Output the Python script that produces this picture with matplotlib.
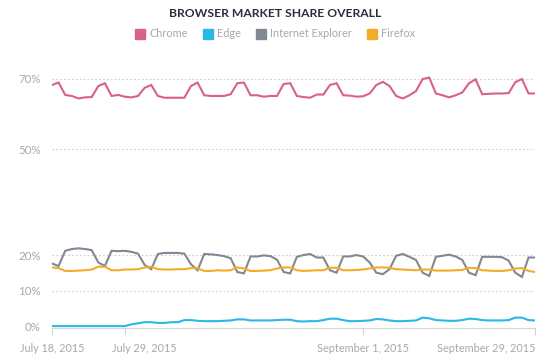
import matplotlib
matplotlib.use("Agg")
import matplotlib.pyplot as plt
import matplotlib.transforms as mtransforms
from matplotlib.lines import Line2D

plt.rcParams["font.family"] = ["Lato", "DejaVu Sans"]

# daily values, July 18 2015 .. September 29 2015 (74 days)
chrome = [68.2, 68.9, 65.4, 65.1, 64.4, 64.7, 64.8, 67.9, 68.7, 65.1,
          65.4, 64.9, 64.7, 65.1, 67.4, 68.2, 65.1, 64.6, 64.6, 64.6,
          64.6, 67.9, 68.9, 65.3, 65.1, 65.1, 65.1, 65.6, 68.7, 68.9,
          65.3, 65.3, 64.9, 65.1, 65.1, 68.5, 68.7, 65.1, 64.8, 64.6,
          65.5, 65.5, 68.2, 68.7, 65.3, 65.2, 64.9, 65.0, 65.8, 68.2,
          69.1, 67.9, 65.1, 64.4, 65.3, 66.5, 69.9, 70.3, 65.8, 65.3,
          64.7, 65.3, 66.1, 68.7, 69.8, 65.6, 65.7, 65.8, 65.8, 65.9,
          69.0, 69.9, 65.8, 65.8]
edge = [0, 0, 0, 0, 0, 0, 0, 0, 0, 0,
        0, 0, 0.5, 0.8, 1.1, 1.1, 0.9, 0.9, 1.1, 1.1,
        1.7, 1.7, 1.5, 1.4, 1.4, 1.4, 1.5, 1.6, 1.9, 1.9,
        1.6, 1.6, 1.6, 1.6, 1.7, 1.8, 1.8, 1.4, 1.3, 1.4,
        1.4, 1.7, 2.1, 2.1, 1.7, 1.4, 1.4, 1.5, 1.6, 2.0,
        1.9, 1.6, 1.4, 1.4, 1.5, 1.6, 2.4, 2.2, 1.7, 1.6,
        1.5, 1.5, 1.7, 2.1, 2.0, 1.7, 1.6, 1.6, 1.6, 1.7,
        2.4, 2.4, 1.7, 1.6]
ie = [17.7, 17.0, 21.3, 21.8, 22.0, 21.8, 21.5, 18.0, 17.0, 21.3,
      21.2, 21.3, 21.0, 20.5, 17.3, 16.1, 20.4, 20.7, 20.7, 20.7,
      20.5, 17.5, 15.8, 20.4, 20.3, 20.1, 19.8, 19.2, 15.3, 14.9,
      19.7, 19.7, 20.0, 19.8, 18.8, 15.3, 14.9, 19.6, 20.1, 20.4,
      19.4, 19.4, 15.8, 15.1, 19.7, 19.7, 20.1, 19.7, 18.0, 15.1,
      14.7, 16.1, 19.9, 20.4, 19.6, 18.7, 15.1, 14.2, 19.6, 19.9,
      20.2, 19.7, 18.7, 15.1, 14.4, 19.6, 19.6, 19.6, 19.5, 18.5,
      15.1, 13.9, 19.4, 19.4]
firefox = [16.6, 16.4, 15.6, 15.6, 15.7, 15.8, 16.0, 16.8, 16.8, 15.8,
           15.8, 16.0, 16.0, 16.1, 16.6, 16.8, 16.1, 16.0, 16.0, 16.1,
           16.1, 16.4, 16.4, 15.6, 15.6, 15.8, 15.7, 15.8, 16.6, 16.3,
           15.6, 15.6, 15.7, 15.8, 16.3, 16.6, 16.6, 15.8, 15.6, 15.7,
           15.8, 15.8, 16.5, 16.5, 15.8, 15.8, 15.9, 16.0, 16.3, 16.6,
           16.6, 16.5, 16.1, 16.0, 15.9, 15.8, 16.0, 16.0, 15.7, 15.7,
           15.7, 15.8, 15.9, 16.5, 16.4, 15.8, 15.7, 15.6, 15.6, 15.8,
           16.3, 16.4, 15.6, 15.3]

series_names = ["Chrome", "Edge", "Internet Explorer", "Firefox"]
series_colors = ["#d9608a", "#2cb8e4", "#7f8893", "#f2ac2a"]

x_ticks = [0, 11, 47, 73]
x_labels = ["July 18, 2015", "July 29, 2015\n(Windows 10 available)",
            "September 1, 2015", "September 29, 2015"]
y_ticks = [0, 10, 20, 50, 70]
y_labels = ["0%", "10%", "20%", "50%", "70%"]

fig = plt.figure(figsize=(5.5, 3.56), dpi=100)
ax = fig.add_axes([0.0945, 0.080, 0.8785, 0.709])

days = list(range(len(chrome)))
for vals, color in zip([chrome, edge, ie, firefox], series_colors):
    ax.plot(days, vals, color=color, lw=1.5, solid_joinstyle="miter")

ax.set_xlim(0, len(chrome) - 1)
ax.set_ylim(-0.4, 71)

for v in y_ticks[1:]:
    ax.axhline(v, color="#cfcfcf", lw=0.8, ls=(0, (1.5, 2)), zorder=0)

ax.set_yticks(y_ticks)
ax.set_yticklabels(y_labels)
ax.set_xticks(x_ticks)
ax.set_xticklabels(x_labels, linespacing=1.25)

for s in ["top", "right", "left"]:
    ax.spines[s].set_visible(False)
ax.spines["bottom"].set_color("#d5d5d5")
ax.spines["bottom"].set_linewidth(0.8)

ax.tick_params(axis="y", length=0, pad=8, labelsize=8.3, labelcolor="#a8a8a8")
ax.tick_params(axis="x", length=5, width=0.8, color="#d5d5d5", pad=6,
               labelsize=7.8, labelcolor="#a8a8a8")

xl = ax.get_xticklabels()
xl[1].set_transform(xl[1].get_transform() + mtransforms.ScaledTranslation(20 / 100, 0, fig.dpi_scale_trans))
xl[3].set_horizontalalignment("right")

fig.text(0.5, 0.962, "BROWSER MARKET SHARE OVERALL", ha="center", va="center",
         fontsize=8.7, fontweight="bold", color="#2a2d3a")

handles = [Line2D([], [], marker="s", ls="none", markersize=6.5, color=c)
           for c in series_colors]
fig.legend(handles, series_names, loc="center", bbox_to_anchor=(0.5, 0.905),
           ncol=4, frameon=False, fontsize=7.8, labelcolor="#a8a8a8",
           handletextpad=0.4, columnspacing=1.3, handlelength=1.0)

fig.savefig("out.png", dpi=100, facecolor="white")
